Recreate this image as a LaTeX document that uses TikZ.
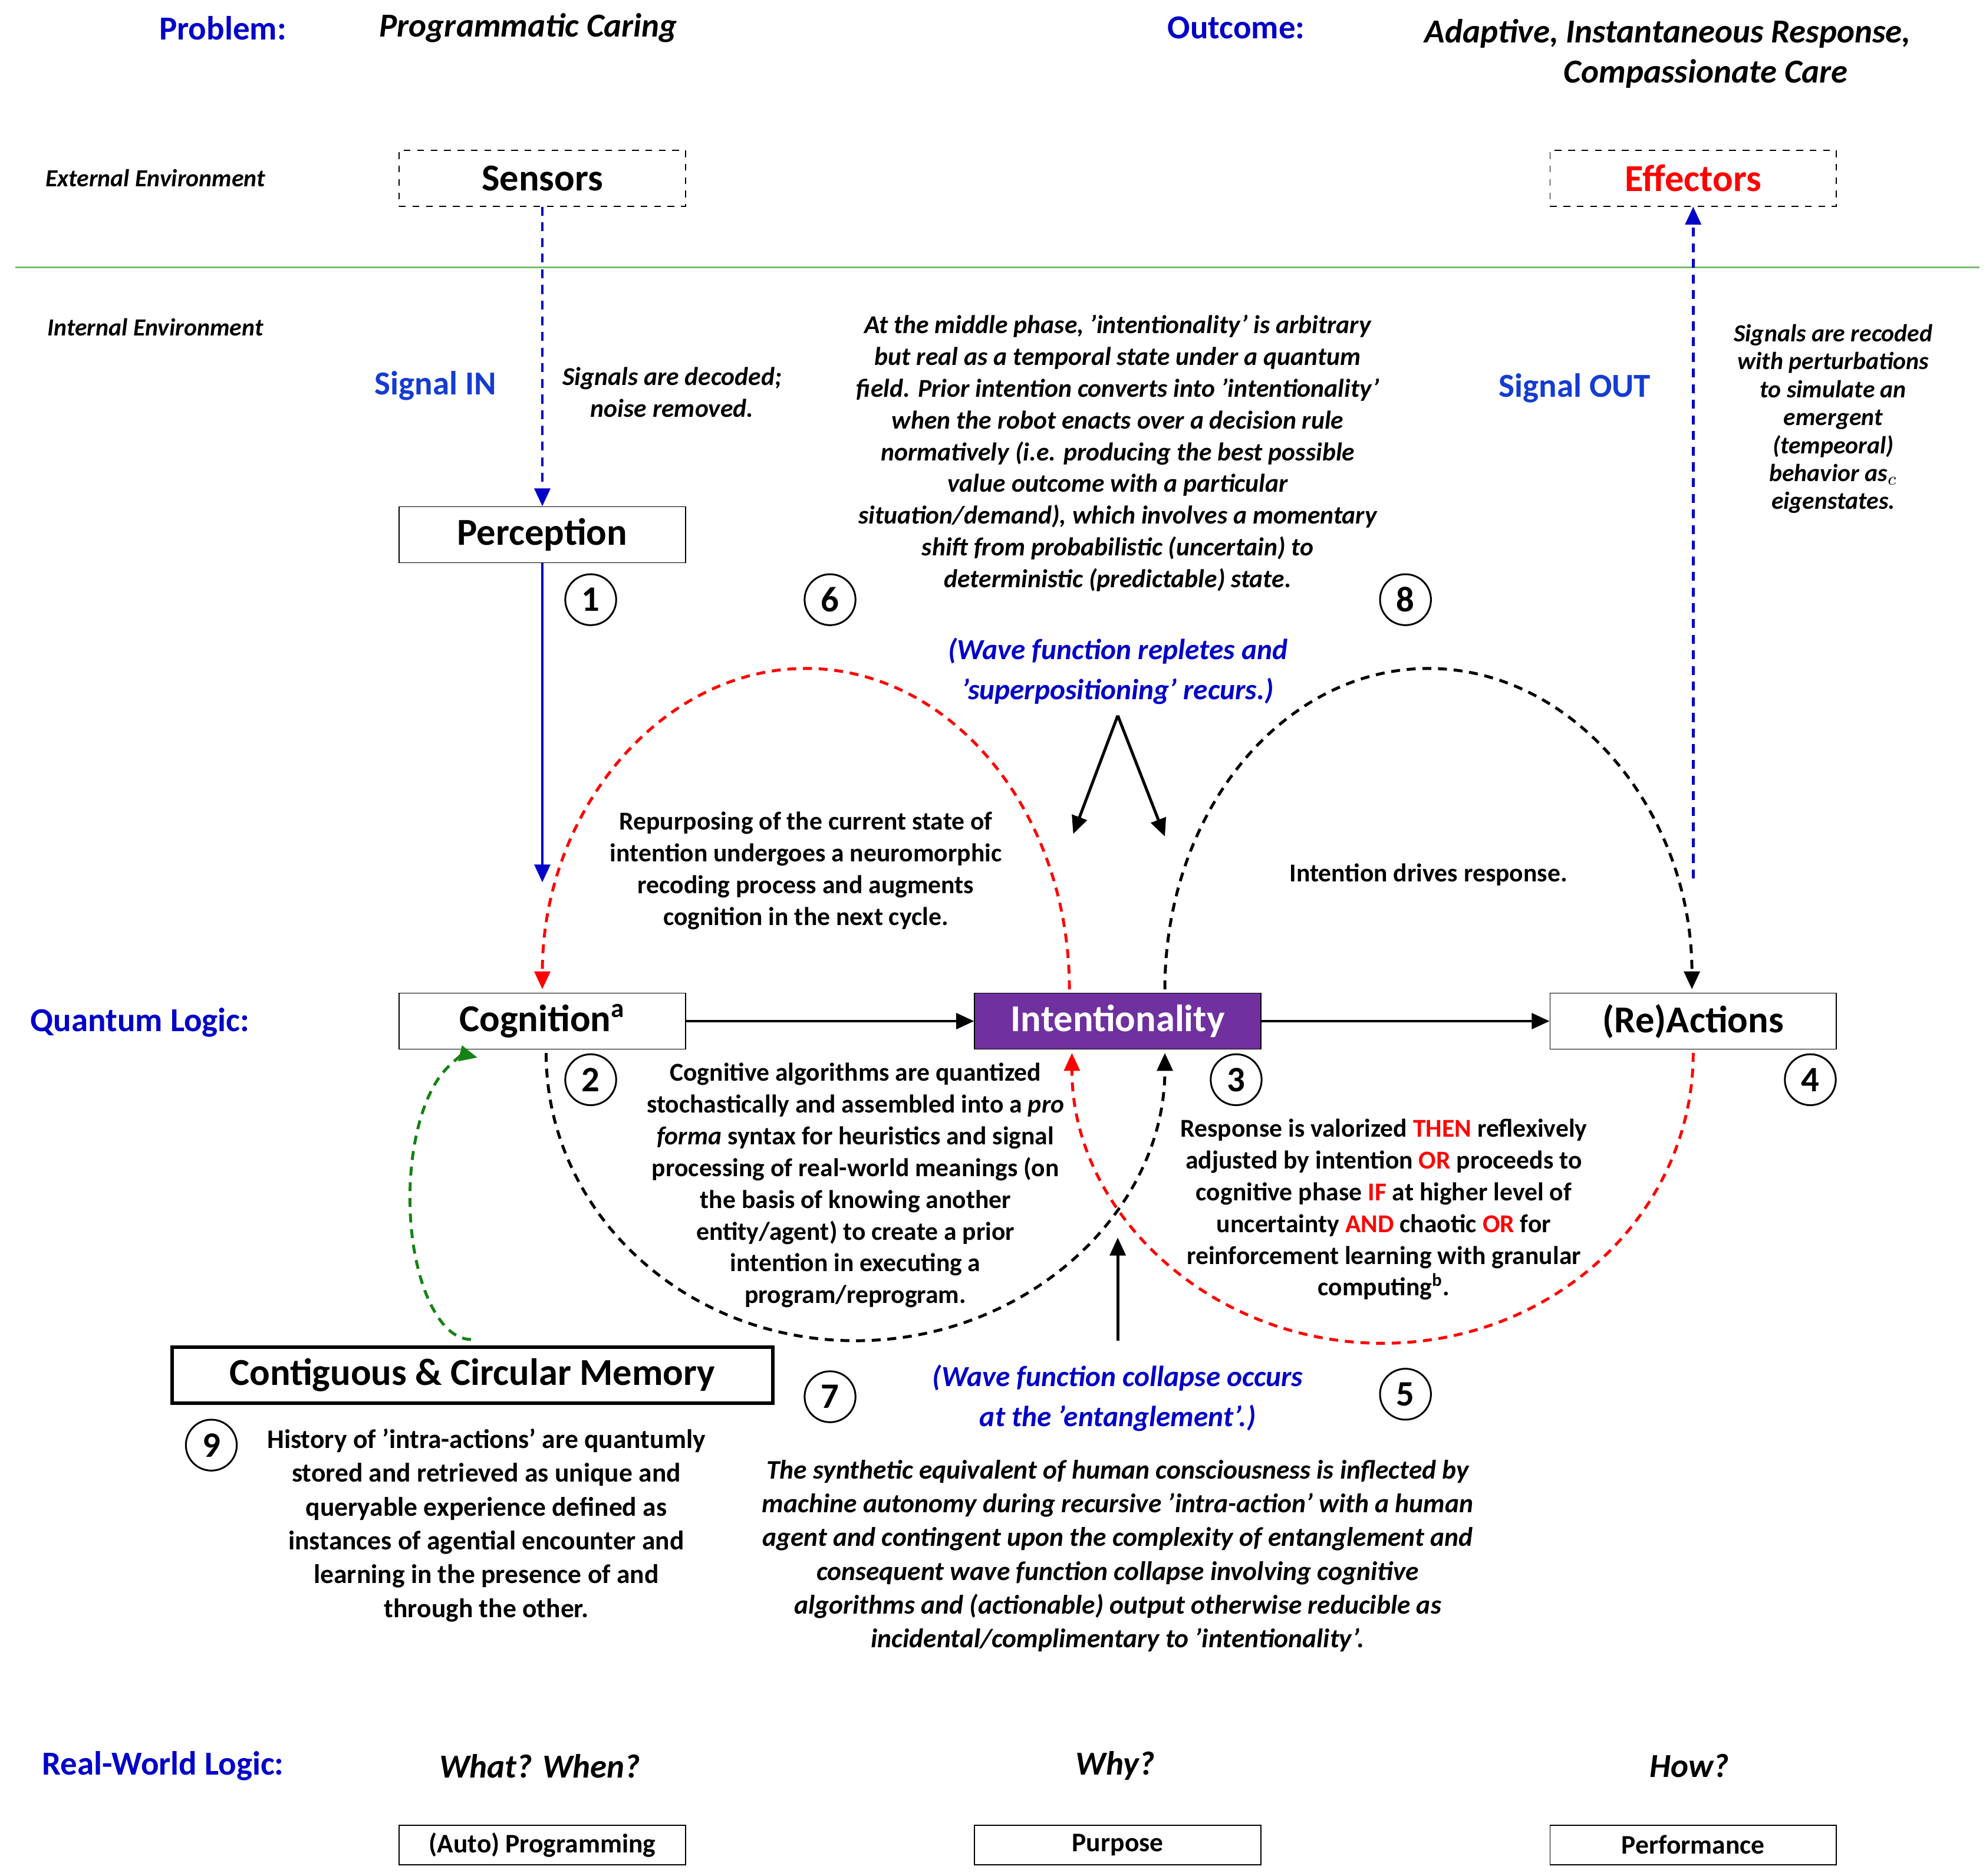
\documentclass[tikz,border=0pt]{standalone}
\usepackage{fontspec}
\setmainfont{Carlito}
\usetikzlibrary{arrows.meta}
\definecolor{qblue}{RGB}{0,0,200}
\definecolor{sblue}{RGB}{20,60,210}
\definecolor{purp}{RGB}{112,48,160}
\definecolor{gline}{RGB}{120,190,110}
\definecolor{dgreen}{RGB}{20,130,20}
\begin{document}
\begin{tikzpicture}[x=0.02cm,y=-0.02cm,
  hdr/.style={font=\fontsize{15}{18}\selectfont\bfseries,text=qblue},
  hit/.style={font=\fontsize{15}{18}\selectfont\bfseries\itshape},
  env/.style={font=\fontsize{11}{13}\selectfont\bfseries\itshape},
  box/.style={draw,minimum width=4.5cm,minimum height=0.88cm,inner sep=0pt,font=\fontsize{17}{20}\selectfont\bfseries},
  dbox/.style={box,dashed},
  sbox/.style={draw,minimum width=4.5cm,minimum height=0.62cm,inner sep=0pt,font=\fontsize{12}{14}\selectfont\bfseries},
  num/.style={draw,circle,thick,minimum size=0.8cm,inner sep=0pt,font=\fontsize{16}{18}\selectfont\bfseries},
  txt/.style={align=center,font=\fontsize{11.5}{14.2}\selectfont\bfseries},
  itx/.style={align=center,font=\fontsize{11.5}{14.2}\selectfont\bfseries\itshape},
  arr/.style={-{Triangle[length=8pt,width=7pt]}},
  dsh/.style={dash pattern=on 4pt off 3pt,line width=1.3pt}]
\useasboundingbox (0,0) rectangle (1560,1473);
% headers
\node[hdr] (prob) at (175,22) {Problem:};
\node[hit] (progc) at (415,22) {Programmatic Caring};
\node[hdr] (outc) at (971,22) {Outcome:};
\node[hit,align=center] (adapt) at (1310,42) {Adaptive, Instantaneous Response,\\\hspace*{1.2cm}Compassionate Care};
\node[env] (ext) at (122,140) {External Environment};
\node[env] (int) at (122,257) {Internal Environment};
\draw[gline,line width=0.8pt] (12,210) -- (1555,210);
% boxes
\node[dbox] (sens) at (426,140) {Sensors};
\node[dbox,text=red] (eff) at (1330,140) {Effectors};
\node[box] (perc) at (426,420) {Perception};
\node[box] (cog) at (426,802) {Cognition$^{\mathbf{a}}$};
\node[box,fill=purp,text=white,draw=black] (intl) at (878,802) {Intentionality};
\node[box] (react) at (1330,802) {(Re)Actions};
\node[box,minimum width=9.44cm,line width=1.6pt] (mem) at (371,1080) {Contiguous \& Circular Memory};
\node[sbox] (prog) at (426,1449) {(Auto) Programming};
\node[sbox] (purp) at (878,1449) {Purpose};
\node[sbox] (perf) at (1330,1449) {Performance};
% labels
\node[hdr,text=sblue] (sin) at (342,303) {Signal IN};
\node[hdr,text=sblue] (sout) at (1237,305) {Signal OUT};
\node[hdr] (ql) at (110,803) {Quantum Logic:};
\node[hdr] (rwl) at (128,1387) {Real-World Logic:};
\node[hit] (ww) at (424,1387) {What? When?};
\node[hit] (why) at (876,1387) {Why?};
\node[hit] (how) at (1327,1387) {How?};
% numbers
\node[num] (n1) at (464,471) {1};
\node[num] (n6) at (652,471) {6};
\node[num] (n8) at (1104,471) {8};
\node[num] (n2) at (464,848) {2};
\node[num] (n3) at (971,848) {3};
\node[num] (n4) at (1422,848) {4};
\node[num] (n7) at (652,1097) {7};
\node[num] (n5) at (1104,1095) {5};
\node[num] (n9) at (166,1135) {9};
% texts
\node[itx] (dec) at (528,308) {Signals are decoded;\\noise removed.};
\node[itx] (mid) at (878,356) {At the middle phase, 'intentionality' is arbitrary\\but real as a temporal state under a quantum\\field. Prior intention converts into 'intentionality'\\when the robot enacts over a decision rule\\normatively (i.e. producing the best possible\\value outcome with a particular\\situation/demand), which involves a momentary\\shift from probabilistic (uncertain) to\\deterministic (predictable) state.};
\node[itx,font=\fontsize{11}{12.5}\selectfont\bfseries\itshape] (rec) at (1440,329) {Signals are recoded\\with perturbations\\to simulate an\\emergent\\(tempeoral)\\behavior as$_{c}$\\eigenstates.};
\node[itx,text=qblue,font=\fontsize{13}{18}\selectfont\bfseries\itshape] (wrep) at (878,527) {(Wave function repletes and\\'superpositioning' recurs.)};
\node[txt] (repu) at (633,684) {Repurposing of the current state of\\intention undergoes a neuromorphic\\recoding process and augments\\cognition in the next cycle.};
\node[txt] (drv) at (1122,687) {Intention drives response.};
\node[txt] (calg) at (672,931) {Cognitive algorithms are quantized\\stochastically and assembled into a \textit{pro}\\\textit{forma} syntax for heuristics and signal\\processing of real-world meanings (on\\the basis of knowing another\\entity/agent) to create a prior\\intention in executing a\\program/reprogram.};
\node[txt] (resp) at (1087,950) {Response is valorized \textcolor{red}{THEN} reflexively\\adjusted by intention \textcolor{red}{OR} proceeds to\\cognitive phase \textcolor{red}{IF} at higher level of\\uncertainty \textcolor{red}{AND} chaotic \textcolor{red}{OR} for\\reinforcement learning with granular\\computing$^{\mathbf{b}}$.};
\node[itx,text=qblue,font=\fontsize{13}{18}\selectfont\bfseries\itshape] (wcol) at (878,1098) {(Wave function collapse occurs\\at the 'entanglement'.)};
\node[txt,font=\fontsize{12}{15.1}\selectfont\bfseries] (hist) at (382,1198) {History of 'intra-actions' are quantumly\\stored and retrieved as unique and\\queryable experience defined as\\instances of agential encounter and\\learning in the presence of and\\through the other.};
\node[itx,font=\fontsize{12}{15.1}\selectfont\bfseries\itshape] (syn) at (878,1222) {The synthetic equivalent of human consciousness is inflected by\\machine autonomy during recursive 'intra-action' with a human\\agent and contingent upon the complexity of entanglement and\\consequent wave function collapse involving cognitive\\algorithms and (actionable) output otherwise reducible as\\incidental/complimentary to 'intentionality'.};
% coordinates
\coordinate (pend) at (426,693);
\coordinate (ostart) at (1330,690);
\coordinate (wtop) at (878,562);
\coordinate (wl) at (843,655);
\coordinate (wr) at (915,657);
\coordinate (ubot) at (878,1053);
\coordinate (utop) at (878,972);
% straight arrows
\draw[arr,qblue,dsh] (sens) -- (perc);
\draw[arr,qblue,line width=1.3pt] (perc) -- (pend);
\draw[arr,qblue,dsh] (ostart) -- (eff);
\draw[arr,line width=1.3pt] (cog) -- (intl);
\draw[arr,line width=1.3pt] (intl) -- (react);
\draw[arr,line width=1.3pt] (wtop) -- (wl);
\draw[arr,line width=1.3pt] (wtop) -- (wr);
\draw[arr,line width=1.3pt] (ubot) -- (utop);
% arcs
\draw[arr,red,dsh] (840,777) arc[start angle=0,end angle=-180,x radius=207,y radius=252];
\draw[arr,dsh] (915,777) arc[start angle=180,end angle=360,x radius=207,y radius=252];
\draw[arr,dsh] (429,827) arc[start angle=180,end angle=0,x radius=243,y radius=226];
\draw[arr,red,dsh] (1330,827) arc[start angle=0,end angle=180,x radius=244,y radius=228];
\draw[arr,dgreen,dsh] (370,1052) arc[start angle=90,end angle=276,x radius=48,y radius=111];
\end{tikzpicture}
\end{document}
